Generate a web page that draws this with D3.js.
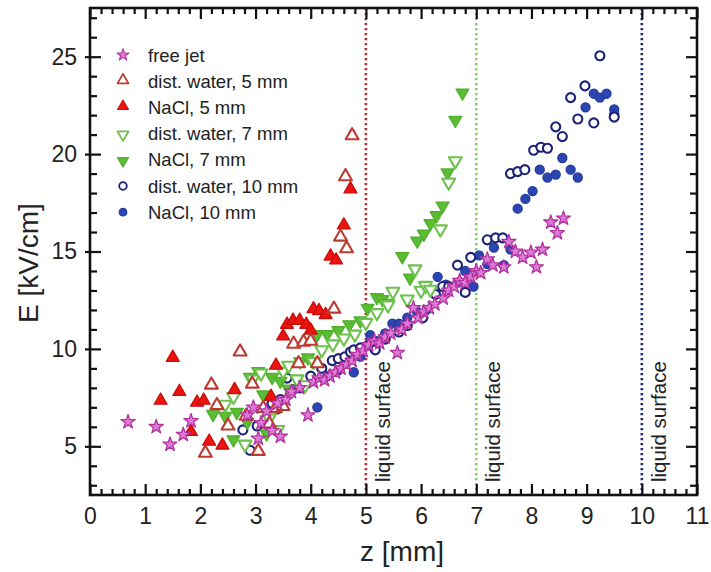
<!DOCTYPE html>
<html><head><meta charset="utf-8">
<script src="https://cdn.jsdelivr.net/npm/d3@7"></script>
<style>
body{margin:0;background:#fff;}
text{font-family:"Liberation Sans",Arial,Helvetica,sans-serif;fill:#222;}
</style>
</head><body>
<svg id="c" width="711" height="572"></svg>
<script>
// ---------------- data (z [mm], E [kV/cm]) ----------------
const freeJet = [[0.69,6.25],[1.2,6.0],[1.45,5.1],[1.69,5.6],[1.83,6.3],
 [2.85,6.6],[2.96,7.0],[3.05,5.4],[3.1,6.2],[3.3,5.8],[3.45,5.5],[3.2,6.8],[3.4,7.2],[3.55,7.4],
 [3.65,7.8],[3.8,8.0],[3.95,6.6],[4.05,8.3],[4.15,8.5],[4.25,8.4],[4.35,8.6],[4.45,8.8],[4.55,9.0],
 [4.65,9.2],[4.75,9.4],[4.85,9.7],[4.95,9.9],[5.05,10.2],[5.15,10.4],[5.25,10.3],[5.35,10.6],
 [5.45,10.8],[5.57,9.8],[5.65,11.0],[5.75,11.3],[5.86,12.1],[5.95,11.6],[6.05,11.9],[6.15,12.1],
 [6.25,12.3],[6.4,12.6],[6.5,13.0],[6.6,13.2],[6.7,13.5],[6.8,13.4],[6.9,13.7],[7.0,14.0],[7.08,13.9],
 [7.2,14.6],[7.3,14.3],[7.5,14.2],[7.59,15.5],[7.71,15.0],[7.84,14.7],[7.99,14.95],[8.09,14.2],
 [8.2,15.1],[8.35,16.5],[8.47,15.95],[8.58,16.7]];
const water5 = [[2.09,4.6],[2.2,8.1],[2.3,7.05],[2.5,6.0],[2.72,9.8],[2.83,6.5],[2.94,8.15],[3.05,4.7],
 [3.14,6.9],[3.25,6.1],[3.36,6.9],[3.5,7.0],[3.69,10.2],[3.78,9.2],[3.87,10.3],[4.0,10.35],[4.12,9.2],
 [4.42,12.0],[4.54,15.7],[4.63,18.8],[4.65,15.1],[4.75,20.9]];
const nacl5 = [[1.28,7.3],[1.5,9.5],[1.62,7.75],[1.83,5.7],[1.94,7.2],[2.06,7.3],[2.16,5.2],[2.4,5.0],
 [2.62,7.85],[3.28,7.5],[3.37,9.1],[3.5,10.6],[3.57,11.2],[3.68,11.4],[3.8,11.4],[3.92,11.2],[4.0,10.9],
 [4.05,12.0],[4.15,11.9],[4.27,11.7],[4.36,14.7],[4.46,14.5],[4.6,16.3],[4.72,18.15]];
const water7 = [[2.45,7.2],[2.6,7.6],[2.81,5.15],[2.95,8.5],[3.1,8.8],[3.25,6.5],[3.4,5.9],[3.5,8.9],
 [3.6,9.2],[3.75,8.5],[3.9,8.2],[4.05,9.4],[4.2,10.0],[4.4,10.3],[4.6,10.6],[4.8,10.8],[5.0,11.4],
 [5.2,11.9],[5.4,12.3],[5.49,13.0],[5.75,12.6],[5.89,14.15],[6.0,13.05],[6.08,13.3],[6.17,13.1],
 [6.35,16.2],[6.5,18.6],[6.62,19.7]];
const nacl7 = [[2.23,6.7],[2.45,6.6],[2.6,5.4],[2.66,6.8],[2.85,6.3],[2.9,8.6],[3.05,8.9],[3.14,7.7],
 [3.2,5.7],[3.3,8.6],[3.45,8.4],[3.6,8.0],[3.81,9.4],[3.95,9.6],[4.12,10.8],[4.3,10.8],[4.5,11.0],
 [4.7,11.3],[4.9,11.5],[5.03,12.15],[5.2,12.7],[5.3,12.6],[5.4,12.4],[5.66,14.8],[5.8,13.7],[5.93,15.6],
 [6.05,15.95],[6.17,16.5],[6.28,16.9],[6.39,17.4],[6.48,19.1],[6.62,21.8],[6.75,23.2]];
const water10 = [[2.77,5.84],[2.9,4.8],[3.03,6.04],[3.3,7.2],[3.45,7.4],[3.57,8.5],[3.8,8.0],[4.0,8.6],
 [4.2,9.0],[4.39,9.4],[4.5,9.5],[4.62,9.6],[4.72,9.84],[4.78,9.95],[4.9,10.05],[5.05,10.2],[5.17,9.95],
 [5.35,10.5],[5.6,10.87],[5.75,11.2],[6.03,11.6],[6.26,12.8],[6.39,13.2],[6.5,13.2],[6.66,14.3],
 [6.8,12.9],[6.9,14.7],[7.2,15.6],[7.35,15.7],[7.48,15.7],[7.62,19.0],[7.75,19.1],[7.88,19.2],
 [8.04,20.2],[8.17,20.35],[8.29,20.3],[8.44,21.4],[8.56,20.9],[8.71,22.9],[8.84,21.8],[8.97,23.5],
 [9.13,21.6],[9.24,25.05],[9.5,21.9]];
const nacl10 = [[3.3,7.1],[3.4,6.9],[3.7,7.94],[4.12,7.0],[4.3,8.6],[4.5,8.9],[4.6,9.3],[4.78,8.8],
 [4.9,9.6],[5.08,10.7],[5.2,10.4],[5.35,10.8],[5.48,11.3],[5.6,11.3],[5.75,11.6],[5.93,11.9],[6.1,12.0],
 [6.3,13.7],[6.45,13.3],[6.66,13.4],[6.8,14.0],[6.95,13.2],[7.05,14.8],[7.2,14.35],[7.32,15.2],
 [7.5,14.3],[7.62,15.1],[7.75,17.2],[7.89,17.7],[8.02,18.1],[8.15,19.2],[8.29,18.8],[8.44,18.95],
 [8.56,19.8],[8.71,19.2],[8.84,18.8],[8.98,22.4],[9.13,23.1],[9.24,22.9],[9.36,23.1],[9.5,22.3],[9.5,22.05]];

const legendLabels = ["free jet","dist. water, 5 mm","NaCl, 5 mm","dist. water, 7 mm","NaCl, 7 mm","dist. water, 10 mm","NaCl, 10 mm"];
const xTicks = [0,1,2,3,4,5,6,7,8,9,10,11];
const yTicks = [5,10,15,20,25];
const surfaces = [5,7,10];
const surfaceLabel = "liquid surface";

// ---------------- styles ----------------
const series = [
 {data:freeJet, shape:"star", fill:"#e07ad9", stroke:"#b1329f"},
 {data:water5, shape:"up", fill:"#fff", stroke:"#bd3a31"},
 {data:nacl5, shape:"up", fill:"#ec140f", stroke:"#c80d0a"},
 {data:water7, shape:"down", fill:"#fff", stroke:"#6cc24c"},
 {data:nacl7, shape:"down", fill:"#5bbd34", stroke:"#4fae2b"},
 {data:water10, shape:"circle", fill:"#fff", stroke:"#1c2277"},
 {data:nacl10, shape:"circle", fill:"#2b45b2", stroke:"#223a9e"}
];
const surfColors = ["#a8303a","#7fd06a","#1e2a70"];

const svg = d3.select("#c");
const L=90,R=697,T=8,B=495;
const x = d3.scaleLinear().domain([0,11]).range([L,R]);
const y = d3.scaleLinear().domain([2.5,27.5]).range([B,T]);

function symPath(shape){
  if(shape==="star") return d3.symbol(d3.symbolStar,62)();
  if(shape==="circle") return d3.symbol(d3.symbolCircle,64)();
  return d3.symbol(d3.symbolTriangle,72)();
}
function symTransform(shape,px,py){
  if(shape==="down") return `translate(${px},${py+1}) rotate(180)`;
  if(shape==="up") return `translate(${px},${py-1})`;
  return `translate(${px},${py})`;
}

// surface lines
surfaces.forEach((s,i)=>{
  svg.append("line").attr("x1",x(s)).attr("x2",x(s)).attr("y1",T).attr("y2",B)
    .attr("stroke",surfColors[i]).attr("stroke-width",2.6).attr("stroke-dasharray","2.2,2.8");
  const tx=x(s)+24, ty=482;
  svg.append("text").attr("transform",`translate(${tx},${ty}) rotate(-90)`)
    .attr("font-size",20.5).attr("fill","#222").text(surfaceLabel);
});

// points (reverse order so free jet on top)
series.slice().reverse().forEach(sr=>{
  svg.append("g").selectAll("path").data(sr.data).join("path")
    .attr("d",symPath(sr.shape))
    .attr("transform",d=>symTransform(sr.shape,x(d[0]),y(d[1])))
    .attr("fill",sr.fill).attr("stroke",sr.stroke)
    .attr("stroke-width",sr.fill==="#fff"?2.1:1.3)
    .attr("stroke-linejoin","round");
});

// axes
const xMinor = d3.range(0,11.001,0.2).filter(v=>Math.abs(v-Math.round(v))>1e-6);
const yMinor = d3.range(3,27.01,1).filter(v=>v%5!==0);

function addAxis(gen, tr){
  const g=svg.append("g").attr("transform",tr).call(gen);
  g.select(".domain").remove();
  g.selectAll(".tick line").attr("stroke","#111").attr("stroke-width",2.2);
  return g;
}
// bottom
const gxb = addAxis(d3.axisBottom(x).tickValues(xTicks).tickSize(-11).tickPadding(13).tickFormat(d3.format("d")),`translate(0,${B})`);
gxb.selectAll("text").attr("font-size",23).attr("fill","#222");
addAxis(d3.axisBottom(x).tickValues(xMinor).tickSize(-6).tickFormat(""),`translate(0,${B})`);
// top
addAxis(d3.axisTop(x).tickValues(xTicks).tickSize(-11).tickFormat(""),`translate(0,${T})`);
addAxis(d3.axisTop(x).tickValues(xMinor).tickSize(-6).tickFormat(""),`translate(0,${T})`);
// left
const gyl = addAxis(d3.axisLeft(y).tickValues(yTicks).tickSize(-11).tickPadding(13).tickFormat(d3.format("d")),`translate(${L},0)`);
gyl.selectAll(".tick line").attr("x1",-5);
gyl.selectAll("text").attr("font-size",23).attr("fill","#222");
addAxis(d3.axisLeft(y).tickValues(yMinor).tickSize(-7).tickFormat(""),`translate(${L},0)`);
// right
addAxis(d3.axisRight(y).tickValues(yTicks).tickSize(-11).tickFormat(""),`translate(${R},0)`);
addAxis(d3.axisRight(y).tickValues(yMinor).tickSize(-7).tickFormat(""),`translate(${R},0)`);

// frame
svg.append("rect").attr("x",L).attr("y",T).attr("width",R-L).attr("height",B-T)
  .attr("fill","none").attr("stroke","#111").attr("stroke-width",2.6);

// axis titles
svg.append("text").attr("x",402).attr("y",561).attr("text-anchor","middle")
  .attr("font-size",28).attr("fill","#222").text("z [mm]");
svg.append("text").attr("transform","translate(38,263) rotate(-90)").attr("text-anchor","middle")
  .attr("font-size",28).attr("fill","#222").text("E [kV/cm]");

// legend
const lg = svg.append("g");
legendLabels.forEach((lab,i)=>{
  const sr=series[i], ly=55+i*26.2;
  lg.append("path").attr("d",symPath(sr.shape)).attr("transform",symTransform(sr.shape,123,ly)+" scale(0.85)")
    .attr("fill",sr.fill).attr("stroke",sr.stroke).attr("stroke-width",sr.fill==="#fff"?2.1:1.3)
    .attr("stroke-linejoin","round");
  lg.append("text").attr("x",148).attr("y",ly+6.5).attr("font-size",18.5).attr("fill","#222").text(lab);
});
</script>
</body></html>
